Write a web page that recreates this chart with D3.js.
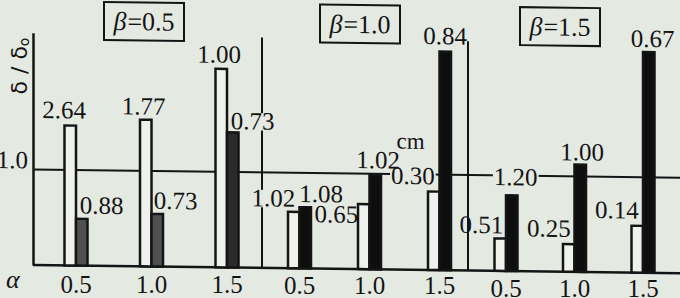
<!DOCTYPE html>
<html>
<head>
<meta charset="utf-8">
<script src="https://cdn.jsdelivr.net/npm/d3@7"></script>
<style>
  body { margin: 0; background: #e4e9e2; }
  svg { display: block; }
  text { font-family: "Liberation Serif", "Times New Roman", serif; fill: #141414; }
</style>
</head>
<body>
<div id="chart"></div>
<script>
// groups and categories
const betas = ["0.5", "1.0", "1.5"];
const alphas = ["0.5", "1.0", "1.5"];
const series = ["open", "solid"];

// bar heights (δ/δ0)
const openHeights = [[1.47, 1.54, 2.08], [0.60, 0.69, 0.83], [0.35, 0.30, 0.50]];
const solidHeights = [[0.50, 0.56, 1.42], [0.65, 0.99, 2.29], [0.80, 1.13, 2.31]];

// values printed next to the bars (cm)
const openLabels = [["2.64", "1.77", "1.00"], ["1.02", "0.65", "0.30"], ["0.51", "0.25", "0.14"]];
const solidLabels = [["0.88", "0.73", "0.73"], ["1.08", "1.02", "0.84"], ["1.20", "1.00", "0.67"]];

const yTicks = [1.0];
const unitLabel = "cm";

// layout
const width = 680, height = 298;
const left = 33, baseY = 265;
const groupTickRange = [[76, 227], [299.5, 439.5], [506, 643]];
const separators = [262, 468];
const boxCenter = [144, 360, 560];
const alphaLabelY = [293, 293.5, 296.5];
const solidFill = [["#505050", "#505050", "#2b2b2b"],
                   ["#0e0e0e", "#0e0e0e", "#0e0e0e"],
                   ["#0e0e0e", "#0e0e0e", "#0e0e0e"]];
// label placement: [anchor, dx, dy, mask] relative to bar centre and bar top
const openPlace = [
    [["middle", -6, -6], ["middle", -2, -4], ["middle", -2, -5]],
    [["end", 1.5, -4, true], ["end", -5.5, 20], ["end", 1, -6, true]],
    [["end", 3, -4], ["end", 2, -6], ["end", 1.5, -6]]
];
const solidPlace = [
    [["start", -2, -4], ["start", -3.5, -4], ["start", -2, -2, true]],
    [["start", -6, -4], ["middle", 3, -6], ["middle", 0, -6]],
    [["middle", 4, -9, true], ["middle", 2, -3], ["middle", 4, -4]]
];
const bg = "#e4e9e2";
const ink = "#141414";
const fs = "25px";

const svg = d3.select("#chart")
    .append("svg")
    .attr("width", width)
    .attr("height", height);

svg.append("rect")
    .attr("width", width)
    .attr("height", height)
    .attr("fill", bg);

// the scan is slightly sheared
const g = svg.append("g")
    .attr("transform", `translate(${left},${baseY}) skewY(0.72) translate(${-left},${-baseY})`);

const y = d3.scaleLinear()
    .domain([0, 2.42])
    .range([baseY, baseY - 2.42 * 96]);

const xGroup = betas.map((b, i) => d3.scalePoint()
    .domain(alphas)
    .range(groupTickRange[i]));

const xSeries = d3.scaleBand()
    .domain(series)
    .range([-11.5, 11.5]);

// left axis with the 1.0 reference line
const yAxis = g.append("g")
    .attr("transform", `translate(${left},0)`)
    .call(d3.axisLeft(y)
        .tickValues(yTicks)
        .tickSize(-(width - left))
        .tickSizeOuter(0)
        .tickPadding(5)
        .tickFormat(d3.format(".1f")));

yAxis.select(".domain").attr("stroke", ink).attr("stroke-width", 2.5);
yAxis.selectAll(".tick line").attr("stroke", ink).attr("stroke-width", 2);
yAxis.selectAll(".tick text")
    .attr("dy", -1)
    .attr("fill", ink)
    .style("font-size", fs)
    .style("font-family", "Liberation Serif, serif");

// group separators
g.selectAll(".sep")
    .data(separators)
    .join("line")
    .attr("class", "sep")
    .attr("x1", d => d)
    .attr("x2", d => d)
    .attr("y1", (d, i) => y(2.42) + 2 + i)
    .attr("y2", baseY)
    .attr("stroke", ink)
    .attr("stroke-width", 2);

// baseline
g.append("line")
    .attr("x1", left)
    .attr("x2", width)
    .attr("y1", baseY)
    .attr("y2", baseY)
    .attr("stroke", ink)
    .attr("stroke-width", 2.5);

// flat list of bars
const bars = [];
betas.forEach((b, gi) => {
    alphas.forEach((a, ai) => {
        bars.push({ gi, ai, s: "open", v: openHeights[gi][ai], label: openLabels[gi][ai], place: openPlace[gi][ai] });
        bars.push({ gi, ai, s: "solid", v: solidHeights[gi][ai], label: solidLabels[gi][ai], place: solidPlace[gi][ai] });
    });
});
const barX = d => xGroup[d.gi](alphas[d.ai]) + xSeries(d.s);

g.append("g")
    .selectAll("rect")
    .data(bars)
    .join("rect")
    .attr("x", barX)
    .attr("y", d => y(d.v) + 1.2)
    .attr("width", xSeries.bandwidth())
    .attr("height", d => baseY - y(d.v) - 1.2)
    .attr("fill", d => d.s === "open" ? "#eef1ec" : solidFill[d.gi][d.ai])
    .attr("stroke", ink)
    .attr("stroke-width", 2.5);

// value labels, with a paper-coloured patch where they cut a line
const masks = g.append("g");
const labels = g.append("g")
    .selectAll("text")
    .data(bars)
    .join("text")
    .attr("x", d => barX(d) + xSeries.bandwidth() / 2 + d.place[1])
    .attr("y", d => y(d.v) + d.place[2])
    .attr("text-anchor", d => d.place[0])
    .style("font-size", fs)
    .text(d => d.label);

labels.filter(d => d.place[3]).each(function () {
    const bb = this.getBBox();
    const by = +d3.select(this).attr("y");
    masks.append("rect")
        .attr("x", bb.x - 1)
        .attr("y", by - 16.5)
        .attr("width", bb.width + 2)
        .attr("height", 17.5)
        .attr("fill", bg);
});

// unit
g.append("text")
    .attr("x", xGroup[1]("1.0") + 27)
    .attr("y", y(1) - 25)
    .style("font-size", "23px")
    .text(unitLabel);

// beta boxes
const boxes = g.selectAll(".beta")
    .data(betas)
    .join("g")
    .attr("class", "beta")
    .attr("transform", (d, i) => `translate(${boxCenter[i]},1)`);

boxes.append("rect")
    .attr("x", -40)
    .attr("y", 0)
    .attr("width", 80)
    .attr("height", 38)
    .attr("fill", "none")
    .attr("stroke", ink)
    .attr("stroke-width", 2);

const bt = boxes.append("text")
    .attr("y", 28)
    .attr("text-anchor", "middle")
    .style("font-size", "26px");
bt.append("tspan").style("font-style", "italic").text("β");
bt.append("tspan").attr("dx", 1).text(d => "=" + d);

// alpha tick labels (below the sheared frame)
betas.forEach((b, gi) => {
    svg.append("g")
        .selectAll("text")
        .data(alphas)
        .join("text")
        .attr("x", d => xGroup[gi](d))
        .attr("y", alphaLabelY[gi])
        .attr("text-anchor", "middle")
        .style("font-size", fs)
        .text(d => d);
});

svg.append("text")
    .attr("x", 6)
    .attr("y", 288)
    .style("font-size", "26px")
    .style("font-style", "italic")
    .text("α");

// y label
const yl = svg.append("text")
    .attr("transform", "translate(27,66) rotate(-90)")
    .attr("text-anchor", "middle")
    .style("font-family", "DejaVu Sans, sans-serif")
    .style("font-size", "22px");
yl.append("tspan").text("δ / δ");
yl.append("tspan").attr("dy", 2).style("font-size", "14px").text("o");
</script>
</body>
</html>
